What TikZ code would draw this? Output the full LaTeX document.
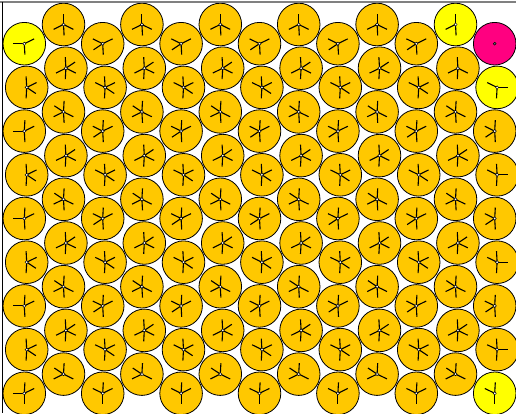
\documentclass[tikz,border=0pt]{standalone}
\usetikzlibrary{calc}
\definecolor{diskor}{RGB}{255,200,0}
\definecolor{diskye}{RGB}{255,255,0}
\definecolor{diskmg}{RGB}{255,0,128}
\definecolor{wallgray}{RGB}{128,128,128}
\tikzset{
  disk/.style={circle,draw=black,line width=0.8pt,fill=diskor,minimum size=42.6pt,inner sep=0pt,outer sep=0pt},
  spoke/.style={line width=1.1pt,draw=black},
  hub/.style={circle,draw=black,fill=white,line width=0.5pt,minimum size=3.2pt,inner sep=0pt},
  deadhub/.style={circle,draw=black,fill=black!60,line width=0.4pt,minimum size=3pt,inner sep=0pt},
}
\newcommand\spk[2]{\draw[spoke] (#1.center) -- ($(#1.center)!11pt!(#2.center)$);}
\newcommand\bond[2]{\spk{#1}{#2}\spk{#2}{#1}}
\begin{document}
\begin{tikzpicture}[x=1pt,y=-1pt]
\useasboundingbox (0,0) rectangle (516,413);
\begin{scope}
\clip (0,0) rectangle (516,413);
% disks
\foreach \c in {0,...,12}{
  \foreach \k in {0,...,8}{
    \pgfmathsetmacro\xx{24.3+39.2*\c+2.4*mod(\k,2)}
    \pgfmathsetmacro\yy{ifthenelse(mod(\c,2)==0,43.7,24.5)+43.7*\k}
    \def\dc{diskor}
    \ifnum\c=0 \ifnum\k=0 \def\dc{diskye}\fi\fi
    \ifnum\c=11 \ifnum\k=0 \def\dc{diskye}\fi\fi
    \ifnum\c=12 \ifnum\k=1 \def\dc{diskye}\fi\fi
    \ifnum\c=12 \ifnum\k=8 \def\dc{diskye}\fi\fi
    \ifnum\c=12 \ifnum\k=0 \def\dc{diskmg}\fi\fi
    \node[disk,fill=\dc] (n\c-\k) at (\xx,\yy) {};
  }
}
% vertical contacts
\foreach \c in {0,...,12}{
  \foreach \k in {0,...,7}{
    \pgfmathtruncatemacro\kn{\k+1}
    \ifnum\c=12 \ifnum\k=0 \else \bond{n\c-\k}{n\c-\kn}\fi \else \bond{n\c-\k}{n\c-\kn}\fi
  }
}
% short diagonal contacts
\foreach \c in {0,...,11}{
  \pgfmathtruncatemacro\cn{\c+1}
  \foreach \k in {0,...,8}{
    \ifnum\c=11 \ifnum\k=0 \else \bond{n\c-\k}{n\cn-\k}\fi \else \bond{n\c-\k}{n\cn-\k}\fi
  }
}
% long diagonal contacts
\foreach \c in {0,...,11}{
  \pgfmathtruncatemacro\cn{\c+1}
  \foreach \k in {1,3,5,7}{
    \pgfmathtruncatemacro\kp{\k+1}
    \pgfmathtruncatemacro\km{\k-1}
    \ifodd\c
      \def\skipit{0}
      \ifnum\c=11 \ifnum\k=1 \def\skipit{1}\fi\fi
      \ifnum\skipit=0 \bond{n\c-\k}{n\cn-\km}\fi
    \else
      \bond{n\c-\k}{n\cn-\kp}
    \fi
  }
}
% wall contacts
\foreach \k in {0,2,4,6,8}{\draw[spoke] (n0-\k.center) -- ++(-11,0);}
\foreach \c in {1,3,...,11}{\draw[spoke] (n\c-0.center) -- ++(0,-11);}
\foreach \k in {1,3,5,7}{\draw[spoke] (n12-\k.center) -- ++(11,0);}
\foreach \c in {0,2,...,12}{\draw[spoke] (n\c-8.center) -- ++(0,11);}
% hubs
\foreach \c in {0,...,12}{
  \foreach \k in {0,...,8}{
    \ifnum\c=12 \ifnum\k=0 \node[deadhub] (h\c-\k) at (n\c-\k.center) {};
      \else \node[hub] (h\c-\k) at (n\c-\k.center) {};\fi
    \else \node[hub] (h\c-\k) at (n\c-\k.center) {};\fi
  }
}
% walls
\draw[wallgray,line width=2pt] (0,1.5) -- (516,1.5);
\draw[black,line width=1.2pt] (2.3,1.5) -- (2.3,413);
\end{scope}
\end{tikzpicture}
\end{document}
